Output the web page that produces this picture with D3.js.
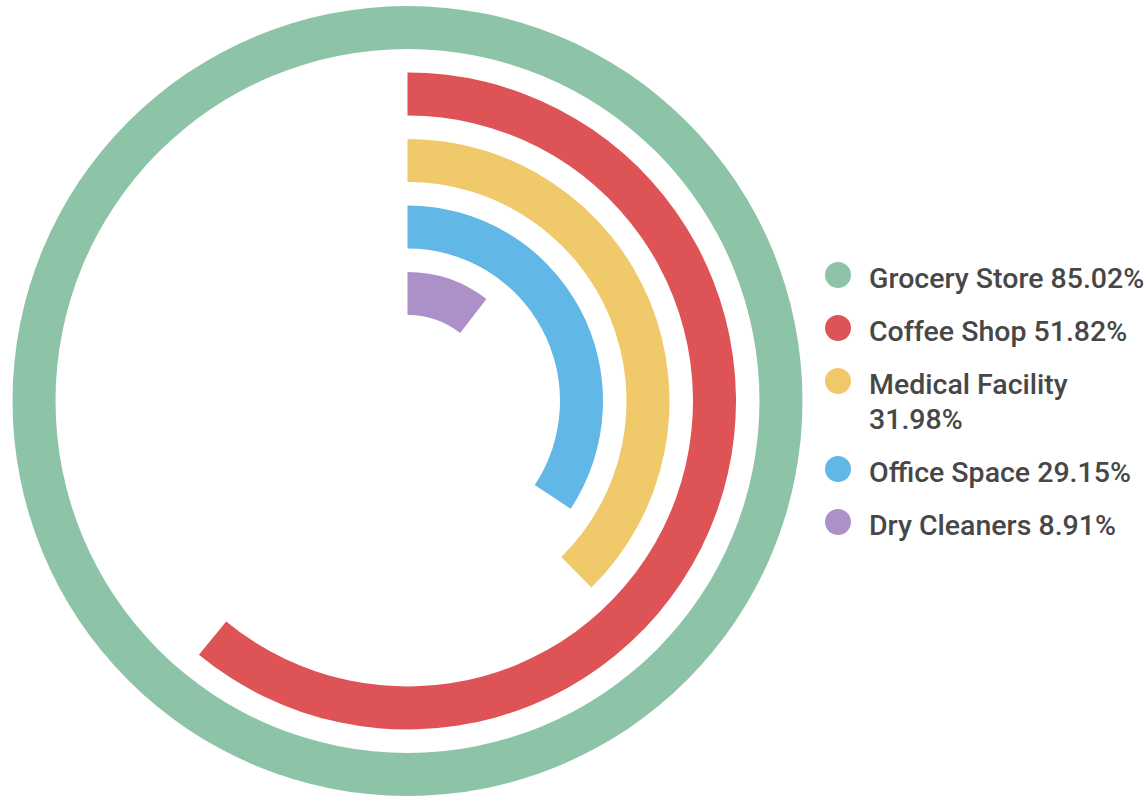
<!DOCTYPE html>
<html>
<head>
<meta charset="utf-8">
<script src="https://cdn.jsdelivr.net/npm/d3@7"></script>
<style>
  html, body { margin: 0; padding: 0; background: #fff; }
  svg { display: block; }
</style>
</head>
<body>
<svg id="chart" width="1148" height="798"></svg>
<script>
// Share of locations within walking distance, by amenity type
const categories = ["Grocery Store", "Coffee Shop", "Medical Facility", "Office Space", "Dry Cleaners"];
const values = [85.02, 51.82, 31.98, 29.15, 8.91];
const colors = ["#8dc4a8", "#de5456", "#f0ca6a", "#61b7e5", "#ab91c8"];

const svg = d3.select("#chart");
const cx = 407.5, cy = 401;
const outerR = 395, band = 66.5, thickness = 43;

// angular scale: largest value closes the full circle
const angle = d3.scaleLinear()
  .domain([0, d3.max(values)])
  .range([0, 2 * Math.PI]);

const radius = d3.scaleLinear()
  .domain([0, categories.length - 1])
  .range([outerR, outerR - band * (categories.length - 1)]);

const arc = d3.arc()
  .innerRadius((d, i) => radius(i) - thickness)
  .outerRadius((d, i) => radius(i))
  .startAngle(0)
  .endAngle(d => angle(d));

const g = svg.append("g").attr("transform", `translate(${cx},${cy})`);
g.selectAll("path.bar")
  .data(values)
  .join("path")
  .attr("class", "bar")
  .attr("fill", (d, i) => colors[i])
  .attr("d", (d, i) => arc(d, i));

// legend
const legendX = 838, textX = 869, maxRight = 1147;
const fontSize = 28.5, lineH = 35, itemStep = 53;
const legend = svg.append("g")
  .attr("font-family", "Roboto, 'Noto Sans', sans-serif")
  .attr("font-size", fontSize)
  .attr("font-weight", 500)
  .attr("fill", "#474747");

let baseline = 288;
categories.forEach((c, i) => {
  const label = `${c} ${values[i].toFixed(2)}%`;
  const item = legend.append("g");
  item.append("circle")
    .attr("cx", legendX)
    .attr("cy", baseline - 13)
    .attr("r", 13)
    .attr("fill", colors[i]);
  const t = item.append("text").attr("x", textX).attr("y", baseline).text(label);
  let lines = 1;
  if (t.node().getComputedTextLength() > maxRight - textX) {
    // wrap the value onto its own line
    t.text(null);
    t.append("tspan").attr("x", textX).attr("y", baseline).text(c);
    t.append("tspan").attr("x", textX).attr("y", baseline + lineH).text(`${values[i].toFixed(2)}%`);
    lines = 2;
  }
  baseline += lineH * (lines - 1) + itemStep;
});
</script>
</body>
</html>
